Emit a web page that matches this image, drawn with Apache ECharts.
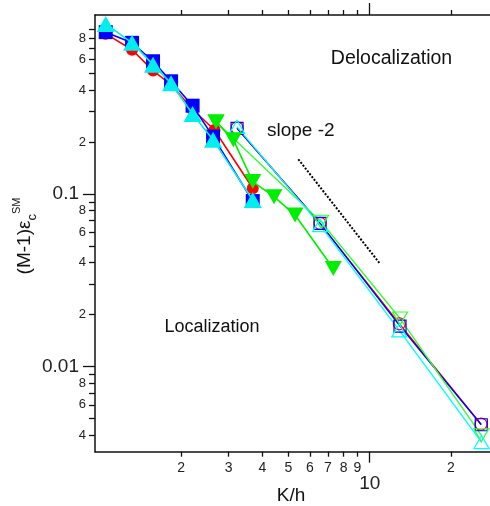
<!DOCTYPE html>
<html><head><meta charset="utf-8">
<script src="https://cdn.jsdelivr.net/npm/echarts@6/dist/echarts.min.js"></script>
<style>html,body{margin:0;padding:0;background:#fff}#c{width:490px;height:506px}</style>
</head><body><div id="c"></div><script>
// ---------- data ----------
const redFilledX   = [1.05, 1.317, 1.575, 1.837, 2.207, 2.66, 3.687];
const redFilledY   = [0.85, 0.686, 0.519, 0.43, 0.31, 0.235, 0.108];
const blueFilledX  = [1.052, 1.317, 1.575, 1.837, 2.207, 2.628, 3.687];
const blueFilledY  = [0.867, 0.752, 0.588, 0.45, 0.325, 0.215, 0.091];
const cyanFilledX  = [1.052, 1.317, 1.575, 1.837, 2.207, 2.628, 3.687];
const cyanFilledY  = [0.967, 0.752, 0.562, 0.438, 0.291, 0.206, 0.0923];
const greenFilledX = [2.696, 3.125, 3.687, 4.42, 5.29, 7.33];
const greenFilledY = [0.262, 0.206, 0.118, 0.0965, 0.0755, 0.037];

const redHollowX   = [3.225, 6.546, 12.87, 25.84];
const redHollowY   = [0.2415, 0.0676, 0.0177, 0.00464];
const blueHollowX  = [3.225, 6.546, 12.95, 25.9];
const blueHollowY  = [0.240, 0.0676, 0.01715, 0.0046];
const greenHollowX = [2.696, 6.6, 12.95, 25.9];
const greenHollowY = [0.262, 0.069, 0.019, 0.0040];
const cyanHollowX  = [3.225, 6.546, 12.87, 25.95];
const cyanHollowY  = [0.245, 0.066, 0.0162, 0.00365];

const slopeX = [5.44, 10.85];
const slopeY = [0.159, 0.0399];

const xMinorTicks  = [2, 3, 4, 5, 6, 7, 8, 9, 20];
const xMinorLabels = [2, 3, 4, 5, 6, 7, 8, 9, 20];
const xMajorTicks  = [10];
const yMinorTicks  = [0.004, 0.005, 0.006, 0.007, 0.008, 0.009,
                      0.02, 0.03, 0.04, 0.05, 0.06, 0.07, 0.08, 0.09,
                      0.2, 0.3, 0.4, 0.5, 0.6, 0.7, 0.8, 0.9];
const yMinorLabels = [0.004, 0.006, 0.008, 0.02, 0.04, 0.06, 0.08, 0.2, 0.4, 0.6, 0.8];
const yMajorTicks  = [0.01, 0.1];

const X_MIN = 0.96, X_MAX = 27.9, Y_MIN = 0.00321, Y_MAX = 1.09;

// ---------- helpers ----------
const zip = (xs, ys) => xs.map((x, i) => [x, ys[i]]);
const mant = v => Math.round(v / Math.pow(10, Math.floor(Math.log10(v) + 1e-9)));
const FONT = '"Liberation Sans", Arial, sans-serif';
const AX = '#111';

function xAxis(pos, ticks, labels, len, opts) {
  return Object.assign({
    type: 'log', logBase: 10, min: X_MIN, max: X_MAX, position: pos,
    axisLine: { show: false },
    splitLine: { show: false },
    axisTick: { show: true, customValues: ticks, length: len, lineStyle: { color: AX, width: 1.3 } },
    axisLabel: labels ? labels : { show: false }
  }, opts || {});
}
function yAxis(ticks, labels, len, opts) {
  return Object.assign({
    type: 'log', logBase: 10, min: Y_MIN, max: Y_MAX, position: 'left',
    axisLine: { show: false },
    splitLine: { show: false },
    axisTick: { show: true, customValues: ticks, length: len, lineStyle: { color: AX, width: 1.3 } },
    axisLabel: labels ? labels : { show: false }
  }, opts || {});
}

function filled(name, xs, ys, color, symbol, size, rot, z) {
  return {
    name, type: 'line', data: zip(xs, ys), xAxisIndex: 0, yAxisIndex: 0,
    symbol, symbolSize: size, symbolRotate: rot || 0, showSymbol: true,
    lineStyle: { color, width: 1.6 }, itemStyle: { color },
    z: z, animation: false, silent: true
  };
}
function hollow(name, xs, ys, color, symbol, size, rot, z) {
  return {
    name, type: 'line', data: zip(xs, ys), xAxisIndex: 0, yAxisIndex: 0,
    symbol, symbolSize: size, symbolRotate: rot || 0, showSymbol: true,
    lineStyle: { color, width: 1.4 },
    itemStyle: { color: 'rgba(0,0,0,0)', borderColor: color, borderWidth: 1.2 },
    z: z, animation: false, silent: true
  };
}

const chart = echarts.init(document.getElementById('c'), null, { renderer: 'canvas' });
chart.setOption({
  animation: false,
  backgroundColor: '#fff',
  textStyle: { fontFamily: FONT },
  grid: { left: 95, right: 0, top: 15, bottom: 54.3, containLabel: false },
  xAxis: [
    xAxis('bottom', xMinorTicks, {
      show: true, customValues: xMinorLabels, margin: 9,
      formatter: v => String(mant(v)),
      fontSize: 14, color: '#222', fontFamily: FONT
    }, 5, { axisLine: { show: true, lineStyle: { color: AX, width: 1.5 } } }),
    xAxis('bottom', xMajorTicks, {
      show: true, customValues: xMajorTicks, margin: 23,
      formatter: v => String(v), fontSize: 19, color: '#222', fontFamily: FONT
    }, 11),
    xAxis('top', xMinorTicks, null, 5, { axisLine: { show: true, lineStyle: { color: AX, width: 1.5 } } }),
    xAxis('top', xMajorTicks, null, 12)
  ],
  yAxis: [
    yAxis(yMinorTicks, {
      show: true, customValues: yMinorLabels, margin: 9,
      formatter: v => String(mant(v)), fontSize: 13, color: '#222', fontFamily: FONT
    }, 6, { axisLine: { show: true, lineStyle: { color: AX, width: 1.5 } } }),
    yAxis(yMajorTicks, {
      show: true, customValues: yMajorTicks, margin: 16,
      formatter: v => (v < 0.05 ? '0.01' : '0.1'), fontSize: 19, color: '#222', fontFamily: FONT
    }, 12)
  ],
  series: [
    hollow('redH', redHollowX, redHollowY, '#ff0000', 'circle', 12, 0, 2),
    hollow('blueH', blueHollowX, blueHollowY, '#0000ff', 'rect', 12, 0, 2),
    hollow('greenH', greenHollowX, greenHollowY, '#33ff33', 'triangle', [15, 13], 180, 2),
    hollow('cyanH', cyanHollowX, cyanHollowY, '#00ffff', 'triangle', [15, 13], 0, 2),
    filled('red', redFilledX, redFilledY, '#ff0000', 'circle', 12, 0, 3),
    filled('blue', blueFilledX, blueFilledY, '#0000ff', 'rect', 14, 0, 4),
    filled('green', greenFilledX, greenFilledY, '#00ee00', 'triangle', [17, 15], 180, 5),
    filled('cyan', cyanFilledX, cyanFilledY, '#00eeee', 'triangle', [18, 16], 0, 6),
    {
      name: 'slope', type: 'line', data: zip(slopeX, slopeY), symbol: 'none',
      lineStyle: { color: '#000', width: 2, type: [2, 1.6] }, z: 7, silent: true
    }
  ],
  graphic: [
    { type: 'text', x: 391.5, y: 58.5, style: { text: 'Delocalization', font: '19.5px ' + FONT, fill: '#111', align: 'center', verticalAlign: 'middle' } },
    { type: 'text', x: 267, y: 131, style: { text: 'slope -2', font: '19px ' + FONT, fill: '#111', align: 'left', verticalAlign: 'middle' } },
    { type: 'text', x: 212, y: 327, style: { text: 'Localization', font: '18px ' + FONT, fill: '#111', align: 'center', verticalAlign: 'middle' } },
    { type: 'text', x: 291, y: 496, style: { text: 'K/h', font: '19px ' + FONT, fill: '#111', align: 'center', verticalAlign: 'middle' } },
    { type: 'text', x: 25, y: 236, rotation: Math.PI / 2,
      style: {
        text: '{m|(M-1)ε}{s|c}{p|SM}', align: 'center', verticalAlign: 'middle', fill: '#111',
        rich: {
          m: { fontSize: 19, fontFamily: FONT, lineHeight: 28, verticalAlign: 'middle' },
          s: { fontSize: 13, fontFamily: FONT, lineHeight: 28, verticalAlign: 'bottom' },
          p: { fontSize: 11, fontFamily: FONT, lineHeight: 28, verticalAlign: 'top' }
        }
      } }
  ]
});
</script></body></html>
